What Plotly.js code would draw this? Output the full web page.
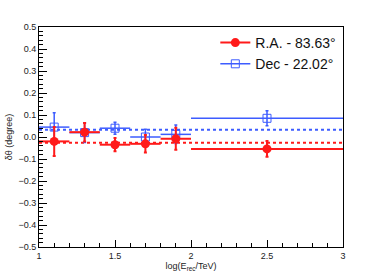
<!DOCTYPE html>
<html>
<head>
<meta charset="utf-8">
<script src="https://cdn.plot.ly/plotly-3.0.1.min.js"></script>
<style>html,body{margin:0;padding:0;background:#fff;}#chart{width:382px;height:275px;}</style>
</head>
<body>
<div id="chart"></div>
<script>
// Bin centres and half-widths, log(E_rec/TeV)
const binCenters = [1.1, 1.3, 1.5, 1.7, 1.9, 2.5];
const binHalfWidths = [0.1, 0.1, 0.1, 0.1, 0.1, 0.5];

// R.A. offsets (degree)
const raValues = [-0.020, 0.022, -0.035, -0.031, -0.008, -0.054];
const raErrors = [0.066, 0.042, 0.030, 0.040, 0.050, 0.036];
const raMean = -0.026;

// Dec offsets (degree)
const decValues = [0.045, 0.020, 0.040, 0.000, 0.012, 0.085];
const decErrors = [0.065, 0.045, 0.027, 0.035, 0.042, 0.034];
const decMean = 0.033;

const xRange = [1, 3];
const xTickVals = [1, 1.5, 2, 2.5, 3];
const xTickText = ['1', '1.5', '2', '2.5', '3'];

const red = '#ff1a1a';
const blue = '#3d5cff';

const traces = [
  {
    x: xRange, y: [decMean, decMean], mode: 'lines', showlegend: false, hoverinfo: 'skip',
    line: {color: blue, width: 2, dash: 'dot'}
  },
  {
    x: xRange, y: [raMean, raMean], mode: 'lines', showlegend: false, hoverinfo: 'skip',
    line: {color: red, width: 2, dash: 'dot'}
  },
  {
    x: binCenters, y: decValues, mode: 'markers', showlegend: false,
    marker: {symbol: 'square-open', size: 8, color: blue, line: {width: 1, color: blue}},
    error_x: {type: 'data', array: binHalfWidths, visible: true, color: blue, thickness: 1.5, width: 0},
    error_y: {type: 'data', array: decErrors, visible: true, color: blue, thickness: 1.5, width: 1.5}
  },
  {
    x: binCenters, y: raValues, mode: 'markers', showlegend: false,
    marker: {symbol: 'circle', size: 9, color: red},
    error_x: {type: 'data', array: binHalfWidths, visible: true, color: red, thickness: 2, width: 0},
    error_y: {type: 'data', array: raErrors, visible: true, color: red, thickness: 2, width: 1.5}
  },
  {
    x: [null], y: [null], mode: 'lines+markers', name: 'R.A. - 83.63°',
    marker: {symbol: 'circle', size: 9, color: red},
    line: {color: red, width: 2}
  },
  {
    x: [null], y: [null], mode: 'lines+markers', name: 'Dec - 22.02°',
    marker: {symbol: 'square-open', size: 8, color: blue, line: {width: 1, color: blue}},
    line: {color: blue, width: 1.5}
  }
];

const layout = {
  width: 382, height: 275,
  margin: {l: 39, r: 39, t: 27, b: 28},
  paper_bgcolor: '#fff', plot_bgcolor: '#fff',
  font: {family: 'Liberation Sans, Arial, sans-serif', color: '#222', size: 9},
  showlegend: true,
  legend: {
    x: 0.58, y: 1.0, xanchor: 'left', yanchor: 'top',
    bgcolor: 'rgba(0,0,0,0)', font: {size: 14, color: '#111'},
    tracegroupgap: 0, itemwidth: 30
  },
  xaxis: {
    range: xRange, tickmode: 'array', tickvals: xTickVals, ticktext: xTickText,
    ticks: 'inside', ticklen: 7, tickcolor: '#000', tickwidth: 1,
    minor: {dtick: 0.1, ticks: 'inside', ticklen: 4, tickcolor: '#000'},
    showline: true, linecolor: '#000', linewidth: 1, mirror: true,
    showgrid: false, zeroline: false,
    tickfont: {size: 9}, ticklabelstandoff: 0,
    title: {text: 'log(E<sub>rec</sub>/TeV)', font: {size: 9}, standoff: 2}
  },
  yaxis: {
    range: [-0.5, 0.5], dtick: 0.1, tick0: 0, tickformat: '.1f',
    ticks: 'inside', ticklen: 8, tickcolor: '#000', tickwidth: 1,
    minor: {dtick: 0.02, ticks: 'inside', ticklen: 4, tickcolor: '#000'},
    showline: true, linecolor: '#000', linewidth: 1, mirror: true,
    showgrid: false, zeroline: false,
    tickfont: {size: 9},
    title: {text: 'δθ (degree)', font: {size: 9}, standoff: 4}
  }
};

Plotly.newPlot('chart', traces, layout, {displayModeBar: false, staticPlot: true});
</script>
</body>
</html>
